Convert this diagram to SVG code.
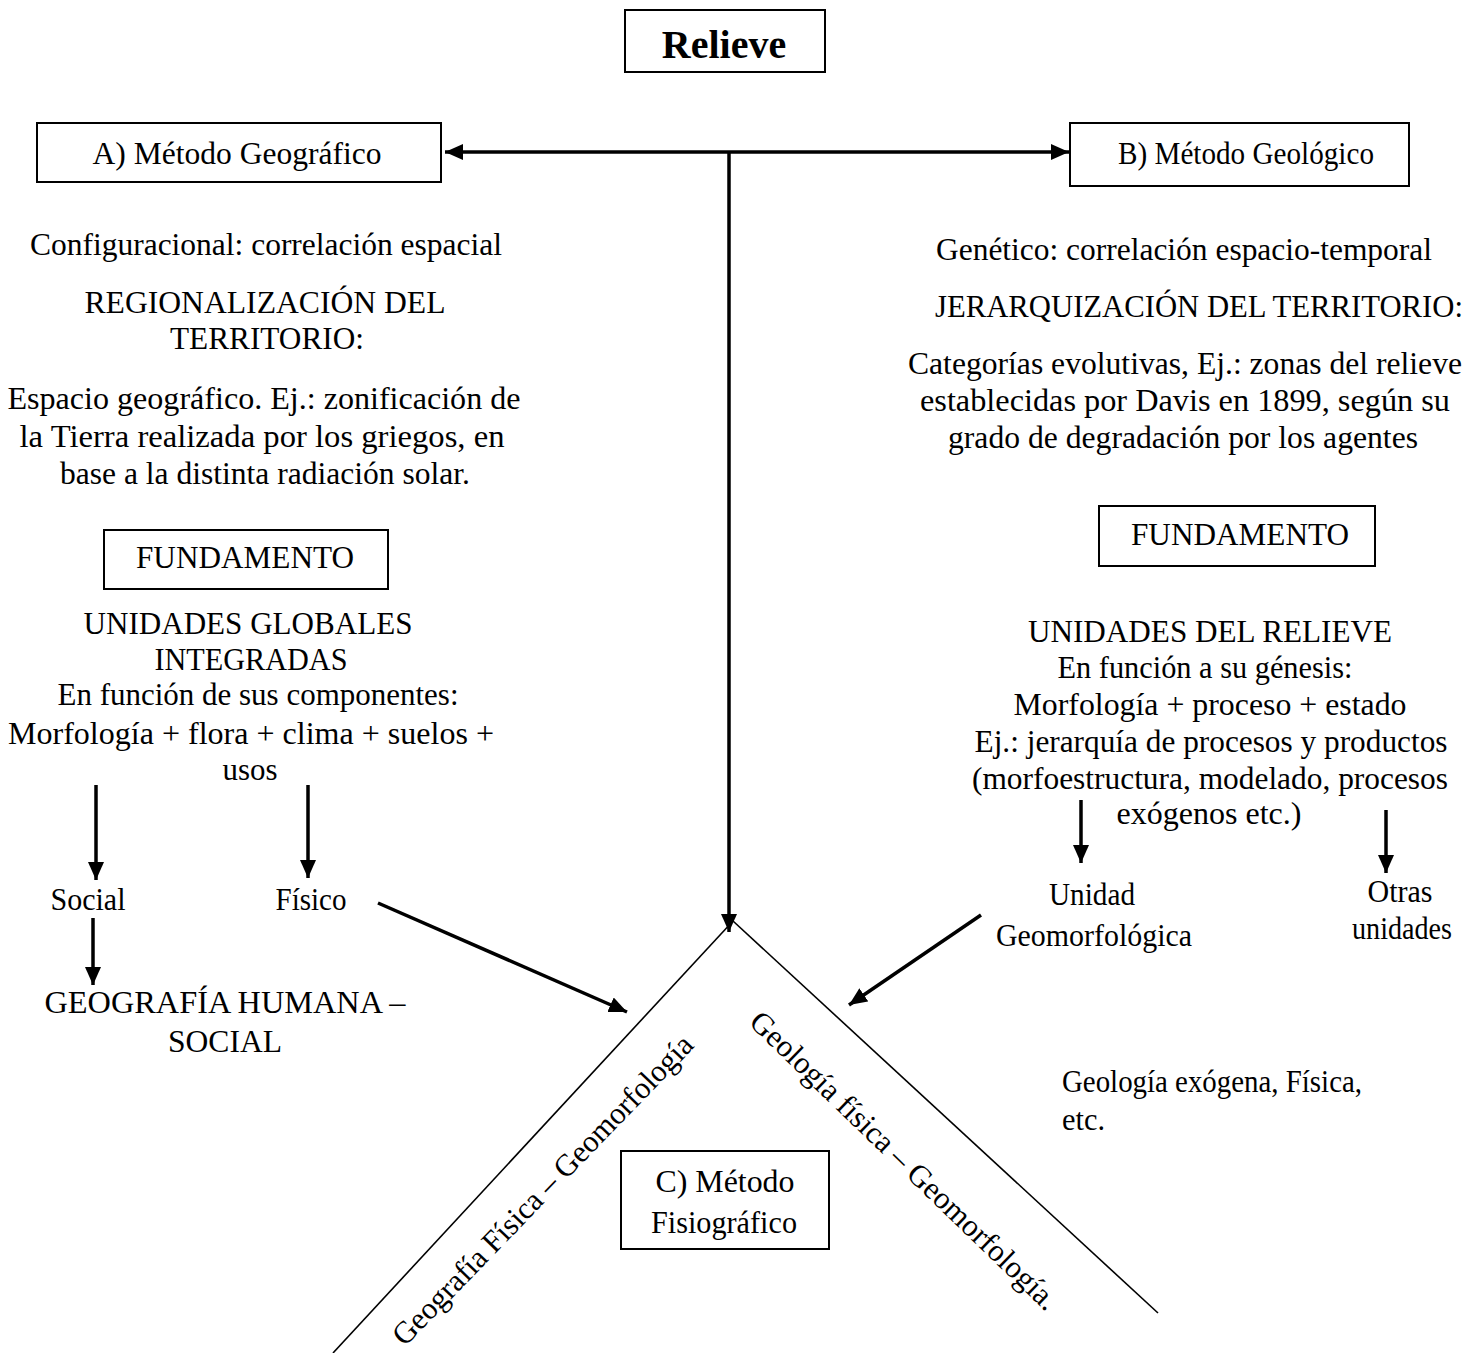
<svg xmlns="http://www.w3.org/2000/svg" width="1476" height="1353" viewBox="0 0 1476 1353">
<defs>
<style>
text{font-family:"Liberation Serif","Times New Roman",serif;font-size:31px;fill:#000}
.c{text-anchor:middle}
.box{fill:#fff;stroke:#000;stroke-width:2}
.arr{stroke:#000;stroke-width:3.5;fill:none}
.thin{stroke:#000;stroke-width:1.6;fill:none}
</style>
<marker id="ah" markerUnits="userSpaceOnUse" viewBox="0 0 18 16" refX="18" refY="8" markerWidth="18" markerHeight="16" orient="auto-start-reverse">
<path d="M0,0 L18,8 L0,16 Z" fill="#000"/>
</marker>
</defs>
<rect width="1476" height="1353" fill="#fff"/>

<g id="connectors">
<line class="arr" x1="445" y1="152" x2="1069" y2="152" marker-start="url(#ah)" marker-end="url(#ah)"/>
<line class="arr" x1="729" y1="152" x2="729" y2="932" marker-end="url(#ah)"/>
<line class="thin" x1="733" y1="921" x2="333" y2="1353"/>
<line class="thin" x1="733" y1="921" x2="1158" y2="1313"/>
<line class="arr" x1="96" y1="785" x2="96" y2="880" marker-end="url(#ah)"/>
<line class="arr" x1="308" y1="785" x2="308" y2="878" marker-end="url(#ah)"/>
<line class="arr" x1="93" y1="918" x2="93" y2="985" marker-end="url(#ah)"/>
<line class="arr" x1="378" y1="903" x2="627" y2="1012" marker-end="url(#ah)"/>
<line class="arr" x1="1081" y1="800" x2="1081" y2="863" marker-end="url(#ah)"/>
<line class="arr" x1="1386" y1="810" x2="1386" y2="873" marker-end="url(#ah)"/>
<line class="arr" x1="981" y1="915" x2="849" y2="1005" marker-end="url(#ah)"/>
</g>

<g id="relieve">
<rect class="box" x="625" y="10" width="200" height="62"/>
<text class="c" x="724" y="58" style="font-size:40px;font-weight:bold">Relieve</text>
</g>

<g id="metodo-geografico">
<rect class="box" x="37" y="123" width="404" height="59"/>
<text class="c" x="237" y="164" textLength="289" lengthAdjust="spacingAndGlyphs">A)  Método Geográfico</text>
</g>

<g id="metodo-geologico">
<rect class="box" x="1070" y="123" width="339" height="63"/>
<text class="c" x="1246" y="164" textLength="256" lengthAdjust="spacingAndGlyphs">B) Método Geológico</text>
</g>

<g id="geografico-texto">
<text class="c" x="266" y="255" textLength="472" lengthAdjust="spacingAndGlyphs">Configuracional: correlación  espacial</text>
<text class="c" x="265" y="313" textLength="361" lengthAdjust="spacingAndGlyphs">REGIONALIZACIÓN  DEL</text>
<text class="c" x="267" y="349" textLength="194" lengthAdjust="spacingAndGlyphs">TERRITORIO:</text>
<text class="c" x="264" y="409" textLength="513" lengthAdjust="spacingAndGlyphs">Espacio geográfico. Ej.: zonificación de</text>
<text class="c" x="262" y="447" textLength="485" lengthAdjust="spacingAndGlyphs">la Tierra realizada por los griegos, en</text>
<text class="c" x="265" y="484" textLength="410" lengthAdjust="spacingAndGlyphs">base a la distinta radiación solar.</text>
</g>

<g id="fundamento-a">
<rect class="box" x="104" y="530" width="284" height="59"/>
<text class="c" x="245" y="568" textLength="218" lengthAdjust="spacingAndGlyphs">FUNDAMENTO</text>
</g>

<g id="unidades-globales">
<text class="c" x="248" y="634" textLength="329" lengthAdjust="spacingAndGlyphs">UNIDADES  GLOBALES</text>
<text class="c" x="251" y="670" textLength="193" lengthAdjust="spacingAndGlyphs">INTEGRADAS</text>
<text class="c" x="258" y="705" textLength="401" lengthAdjust="spacingAndGlyphs">En función  de sus componentes:</text>
<text class="c" x="251" y="744" textLength="486" lengthAdjust="spacingAndGlyphs">Morfología  + flora + clima  + suelos +</text>
<text class="c" x="250" y="780" textLength="55" lengthAdjust="spacingAndGlyphs">usos</text>
</g>

<g id="social">
<text class="c" x="88" y="910" textLength="75" lengthAdjust="spacingAndGlyphs">Social</text>
</g>
<g id="fisico">
<text class="c" x="311" y="910" textLength="71" lengthAdjust="spacingAndGlyphs">Físico</text>
</g>

<g id="geografia-humana">
<text class="c" x="225" y="1013" textLength="361" lengthAdjust="spacingAndGlyphs">GEOGRAFÍA  HUMANA  –</text>
<text class="c" x="225" y="1052" textLength="114" lengthAdjust="spacingAndGlyphs">SOCIAL</text>
</g>

<g id="geologico-texto">
<text class="c" x="1184" y="260" textLength="496" lengthAdjust="spacingAndGlyphs">Genético: correlación  espacio-temporal</text>
<text class="c" x="1199" y="317" textLength="528" lengthAdjust="spacingAndGlyphs">JERARQUIZACIÓN   DEL TERRITORIO:</text>
<text class="c" x="1185" y="374" textLength="554" lengthAdjust="spacingAndGlyphs">Categorías evolutivas,  Ej.: zonas del relieve</text>
<text class="c" x="1185" y="411" textLength="530" lengthAdjust="spacingAndGlyphs">establecidas  por Davis en 1899, según  su</text>
<text class="c" x="1183" y="448" textLength="470" lengthAdjust="spacingAndGlyphs">grado de degradación  por los agentes</text>
</g>

<g id="fundamento-b">
<rect class="box" x="1099" y="506" width="276" height="60"/>
<text class="c" x="1240" y="545" textLength="218" lengthAdjust="spacingAndGlyphs">FUNDAMENTO</text>
</g>

<g id="unidades-relieve">
<text class="c" x="1210" y="642" textLength="364" lengthAdjust="spacingAndGlyphs">UNIDADES  DEL RELIEVE</text>
<text class="c" x="1205" y="678" textLength="295" lengthAdjust="spacingAndGlyphs">En función  a su génesis:</text>
<text class="c" x="1210" y="715" textLength="393" lengthAdjust="spacingAndGlyphs">Morfología  + proceso + estado</text>
<text class="c" x="1211" y="752" textLength="473" lengthAdjust="spacingAndGlyphs">Ej.: jerarquía  de procesos y productos</text>
<text class="c" x="1210" y="789" textLength="476" lengthAdjust="spacingAndGlyphs">(morfoestructura,  modelado,  procesos</text>
<text class="c" x="1209" y="824" textLength="185" lengthAdjust="spacingAndGlyphs">exógenos  etc.)</text>
</g>

<g id="unidad-geomorfologica">
<text class="c" x="1092" y="905" textLength="86" lengthAdjust="spacingAndGlyphs">Unidad</text>
<text class="c" x="1094" y="946" textLength="196" lengthAdjust="spacingAndGlyphs">Geomorfológica</text>
</g>

<g id="otras-unidades">
<text class="c" x="1400" y="902" textLength="65" lengthAdjust="spacingAndGlyphs">Otras</text>
<text class="c" x="1402" y="939" textLength="100" lengthAdjust="spacingAndGlyphs">unidades</text>
</g>

<g id="geologia-exogena">
<text x="1062" y="1092" textLength="300" lengthAdjust="spacingAndGlyphs">Geología  exógena, Física,</text>
<text x="1062" y="1130" textLength="43" lengthAdjust="spacingAndGlyphs">etc.</text>
</g>

<g id="metodo-fisiografico">
<rect class="box" x="621" y="1151" width="208" height="98"/>
<text class="c" x="725" y="1192" textLength="139" lengthAdjust="spacingAndGlyphs">C) Método</text>
<text class="c" x="724" y="1233" textLength="146" lengthAdjust="spacingAndGlyphs">Fisiográfico</text>
</g>

<g id="label-geografia-fisica">
<text class="c" x="550" y="1197" transform="rotate(-46 550 1197)" textLength="418" lengthAdjust="spacingAndGlyphs">Geografía Física – Geomorfología</text>
</g>
<g id="label-geologia-fisica">
<text class="c" x="897" y="1168" transform="rotate(44 897 1168)" textLength="415" lengthAdjust="spacingAndGlyphs">Geología   física   –  Geomorfología.</text>
</g>
</svg>
